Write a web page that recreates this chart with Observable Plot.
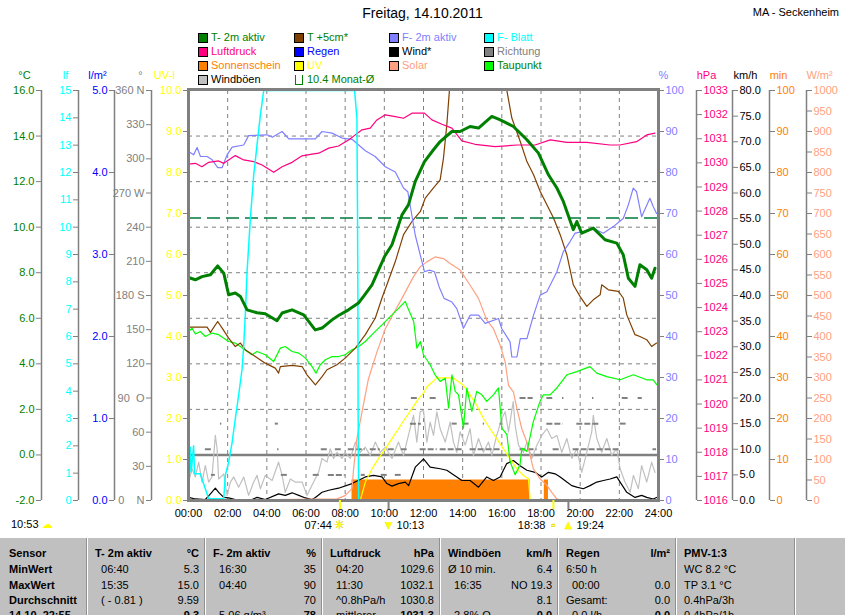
<!DOCTYPE html>
<html><head><meta charset="utf-8">
<script src="https://cdn.jsdelivr.net/npm/d3@7"></script>
<script src="https://cdn.jsdelivr.net/npm/@observablehq/plot@0.6"></script>
<style>
body{margin:0;background:#fff;}
#root{position:relative;width:845px;height:615px;overflow:hidden;background:#fff;font-family:"Liberation Sans",Arial,sans-serif;color:#000;}
.abs{position:absolute;white-space:pre;}
.leg{position:absolute;font-size:11px;line-height:13px;white-space:pre;}
.sq{position:absolute;width:8px;height:8px;border:1px solid #000;}
#chart{position:absolute;left:0;top:60px;}
#table{position:absolute;left:0;top:537px;width:845px;height:78px;background:#c0c0c0;border-top:1px solid #fff;overflow:hidden;}
.cell{position:absolute;font-size:11px;line-height:14px;white-space:pre;}
.sep{position:absolute;top:0;height:78px;width:1px;background:#fff;}
.sepd{position:absolute;top:0;height:78px;width:1px;background:#909090;}
</style></head>
<body><div id="root">
<div class="abs" style="left:0;width:845px;top:5px;text-align:center;font-size:14px;">Freitag, 14.10.2011</div>
<div class="abs" style="right:6px;top:6px;font-size:11px;">MA - Seckenheim</div>
<div id="legend"></div>
<div id="chart"></div>
<div class="abs" style="left:11px;top:518px;font-size:11px;">10:53 <span style="color:#ffff00;">☁</span></div>
<div id="table"></div>
</div>
<script>
// ---------- data (own units) ----------
const t2m = [[0,7.79],[0.35,7.69],[0.69,7.83],[1.12,7.91],[1.49,8.30],[1.8,7.98],[2.05,7.03],[2.39,7.11],[2.65,6.96],[2.99,6.37],[3.5,6.24],[3.92,6.20],[4.52,5.89],[4.78,6.23],[5.29,6.37],[5.88,6.15],[6.47,5.49],[6.82,5.57],[7.33,5.93],[7.66,6.12],[8.17,6.37],[8.68,6.67],[8.94,6.96],[9.37,7.47],[10.01,8.71],[10.39,9.23],[10.9,10.54],[11.23,10.98],[11.58,12.01],[12.05,12.88],[12.51,13.40],[12.85,13.76],[13.45,14.20],[13.87,14.20],[14.38,14.42],[14.81,14.35],[15.49,14.86],[15.92,14.71],[16.59,14.42],[17.28,13.84],[17.87,13.25],[18.38,12.30],[18.81,11.72],[19.14,11.13],[19.65,9.89],[19.83,10.25],[20.08,9.74],[20.67,9.96],[21.27,9.45],[21.87,9.30],[22.2,8.79],[22.46,7.76],[22.8,7.40],[23.05,8.35],[23.4,8.13],[23.65,7.76],[23.82,8.20]];
const t5cm = [[0,5.61],[0.95,5.61],[1.12,5.38],[1.49,5.86],[1.72,5.57],[2.05,5.13],[2.39,4.76],[2.65,4.91],[2.9,4.62],[3.41,4.32],[3.92,4.03],[4.43,3.81],[4.6,3.59],[4.69,3.88],[5.29,3.93],[5.8,3.88],[6.05,3.52],[6.48,3.08],[6.82,3.44],[7.07,3.74],[7.58,3.96],[8.0,4.25],[8.52,4.69],[9.03,5.28],[9.54,6.01],[9.88,6.89],[10.13,7.47],[10.56,8.49],[10.98,9.67],[11.41,10.25],[11.84,10.69],[12.09,11.28],[12.51,11.72],[12.85,12.08],[13.02,13.03],[13.19,14.49],[13.32,15.96],[13.6,17.8],[14.2,19.6],[15.0,20.3],[15.7,19.0],[16.25,16.03],[16.51,14.79],[16.94,13.76],[17.28,12.88],[17.62,12.30],[17.96,11.57],[18.3,10.98],[18.64,10.40],[18.98,9.67],[19.32,8.79],[19.65,7.47],[19.99,6.96],[20.34,6.52],[20.67,6.81],[21.02,7.03],[21.1,7.47],[21.44,7.25],[21.95,7.18],[22.2,6.89],[22.38,6.15],[22.8,5.28],[23.05,5.20],[23.4,5.06],[23.65,4.76],[23.9,4.91]];
const dewPoint = [[0.01,5.42],[0.18,5.57],[0.35,5.31],[0.6,5.42],[0.86,5.20],[1.2,5.35],[1.54,5.28],[2.05,4.98],[2.39,4.91],[2.65,4.76],[2.99,4.54],[3.24,4.40],[3.5,4.54],[3.92,4.40],[4.35,4.10],[4.69,4.69],[4.94,4.76],[5.29,4.54],[5.63,4.47],[5.97,4.25],[6.31,3.88],[6.51,3.59],[6.73,3.96],[6.99,4.18],[7.33,4.32],[7.66,4.32],[8.0,4.40],[8.35,4.62],[8.69,4.76],[9.03,4.98],[9.37,5.28],[9.88,5.71],[10.39,6.15],[10.9,6.59],[11.07,6.74],[11.24,6.37],[11.5,5.86],[11.66,4.69],[11.84,4.98],[12.0,4.40],[12.34,3.96],[12.59,3.52],[12.85,3.23],[13.11,3.37],[13.28,2.06],[13.45,3.52],[13.62,2.79],[13.79,2.64],[14.04,1.18],[14.21,2.94],[14.47,1.91],[14.72,2.79],[14.98,2.64],[15.23,2.35],[15.57,2.64],[15.83,2.94],[16.0,1.18],[16.26,0.89],[16.42,-0.29],[16.68,-0.87],[16.93,-0.43],[17.02,0.30],[17.28,0.15],[17.61,1.47],[17.95,2.35],[18.12,2.64],[18.46,2.64],[18.81,2.94],[19.32,3.52],[19.83,3.66],[20.5,3.88],[20.85,3.59],[21.36,3.44],[22.04,3.30],[22.71,3.52],[23.4,3.30],[23.73,3.30],[23.91,3.09]];
const humidity = [[0.01,85.1],[0.26,84.3],[0.44,86.1],[0.61,83.9],[0.95,83.9],[1.21,83.1],[1.49,81.2],[1.72,81.2],[1.97,84.3],[2.23,86.2],[2.82,86.7],[3.07,89.0],[4.02,89.2],[4.28,88.6],[4.78,90.0],[5.12,88.2],[6.48,88.2],[6.82,90.0],[7.33,89.6],[7.84,88.4],[8.35,88.1],[9.03,85.3],[9.53,83.9],[10.05,81.4],[10.56,80.1],[10.98,76.2],[11.2,75.3],[11.58,64.7],[12.05,55.8],[12.3,56.2],[12.56,55.8],[12.8,52.1],[13.05,49.3],[13.45,48.4],[13.7,46.8],[14.04,42.0],[14.38,45.2],[14.81,45.2],[15.15,43.2],[15.83,44.4],[16.0,41.9],[16.42,38.7],[16.51,35.0],[16.77,35.0],[16.94,39.5],[17.28,39.5],[17.62,45.2],[17.96,50.1],[18.3,50.9],[18.81,55.8],[19.14,60.7],[19.48,63.1],[19.74,65.2],[20.16,65.6],[20.67,66.4],[21.18,65.2],[21.69,66.8],[22.2,68.8],[22.46,72.1],[22.71,76.2],[22.88,75.3],[23.14,69.2],[23.56,73.7],[23.73,71.7],[23.9,70.0]];
const leafWet = [[0,1.65],[0.05,1.04],[0.09,1.95],[0.14,1.04],[0.26,2.0],[0.31,0.98],[0.6,0.98],[1.03,0.06],[1.8,0.06],[1.88,0.92],[2.05,1.40],[2.23,2.14],[2.39,2.99],[2.56,3.85],[2.74,4.83],[2.82,5.68],[2.9,6.78],[2.99,8.37],[3.16,10.32],[3.33,11.91],[3.5,13.01],[3.67,14.11],[3.84,15.0],[8.48,15.0],[8.6,13.99],[8.63,10.56],[8.65,7.39],[8.66,3.48],[8.69,0],[24,0]];
const pressure = [[0.01,1029.95],[0.35,1029.98],[0.69,1029.84],[1.03,1030.02],[1.54,1030.08],[1.80,1029.98],[2.39,1030.30],[2.82,1030.12],[3.33,1030.05],[3.76,1029.91],[4.35,1029.61],[4.78,1029.84],[5.29,1030.02],[5.8,1030.29],[6.31,1030.36],[6.65,1030.40],[7.16,1030.61],[7.66,1030.70],[8.17,1030.95],[8.52,1031.16],[8.86,1031.37],[9.28,1031.44],[9.62,1031.78],[10.05,1031.99],[10.56,1031.92],[10.98,1031.85],[11.41,1032.06],[12.05,1032.06],[12.43,1031.78],[12.94,1031.60],[13.45,1031.44],[13.96,1030.91],[14.63,1030.77],[15.66,1030.67],[16.77,1030.74],[17.7,1030.74],[18.47,1030.95],[19.32,1030.85],[20.34,1030.85],[21.52,1030.74],[22.03,1030.74],[22.88,1030.88],[23.4,1031.16],[23.82,1031.23]];
const rain = [[0,0],[24,0]];
const gusts = [[0.01,3.6],[0.18,6.2],[0.35,4.6],[0.52,7.5],[0.69,3.6],[0.86,6.8],[1.03,3.6],[1.2,4.6],[1.37,12.7],[1.46,10.1],[1.54,4.2],[1.8,5.2],[1.97,1.0],[2.14,3.6],[2.31,4.6],[2.56,2.6],[2.82,4.6],[3.07,1.0],[3.33,3.6],[3.5,4.9],[3.67,2.3],[3.92,4.9],[4.27,3.9],[4.6,7.5],[4.78,4.9],[4.94,1.6],[5.2,4.2],[5.45,3.6],[5.8,3.6],[6.05,1.0],[6.39,3.6],[6.64,5.5],[6.82,8.2],[7.07,7.5],[7.24,10.1],[7.41,8.2],[7.58,9.4],[7.84,8.2],[8.0,9.4],[8.26,8.2],[8.52,11.4],[8.77,9.4],[9.03,10.4],[9.28,8.8],[9.54,11.4],[9.79,9.4],[10.05,10.4],[10.39,8.2],[10.72,11.4],[10.98,8.8],[11.23,12.7],[11.49,16.6],[11.66,11.4],[11.83,17.3],[12.0,17.6],[12.17,11.4],[12.34,15.3],[12.51,12.7],[12.68,17.3],[12.85,14.0],[13.11,11.4],[13.36,15.3],[13.53,11.4],[13.7,9.4],[13.87,13.4],[14.13,10.8],[14.38,14.0],[14.55,8.8],[14.81,12.1],[15.06,9.4],[15.32,11.4],[15.49,8.8],[15.74,12.7],[16.0,16.0],[16.17,17.3],[16.34,13.4],[16.58,19.3],[16.68,14.7],[16.85,10.8],[17.1,9.4],[17.28,11.4],[17.53,8.2],[17.79,10.8],[18.04,12.7],[18.3,14.0],[18.55,12.1],[18.81,12.7],[19.06,9.4],[19.32,12.1],[19.57,8.2],[19.83,10.1],[20.08,5.5],[20.34,9.4],[20.59,13.4],[20.67,16.6],[20.85,12.1],[21.1,9.4],[21.36,12.1],[21.61,8.8],[21.87,10.1],[22.04,6.2],[22.29,3.6],[22.55,1.6],[22.72,4.9],[22.97,2.3],[23.14,6.8],[23.4,3.6],[23.65,7.5],[23.82,5.5]];
const wind = [[0.01,0.6],[0.35,0.3],[0.86,0.2],[1.12,1.3],[1.37,2.4],[1.54,1.6],[1.8,0.6],[2.05,0.5],[2.39,0.2],[3.24,0.2],[3.5,0.6],[3.92,0.2],[4.6,1.3],[4.94,1.0],[5.29,1.5],[5.63,1.0],[5.97,0.5],[6.31,0.2],[6.48,0.6],[6.82,1.6],[7.16,2.0],[7.66,2.4],[8.35,3.3],[9.03,4.6],[9.45,4.9],[9.88,4.6],[10.13,3.3],[10.39,2.8],[10.72,3.3],[11.07,3.6],[11.24,2.9],[11.58,6.5],[11.84,7.5],[12.0,8.1],[12.34,6.5],[12.85,6.2],[13.19,5.9],[13.7,4.6],[13.96,3.9],[14.38,3.9],[14.81,2.6],[15.23,4.6],[15.57,3.9],[15.91,4.6],[16.25,7.2],[16.59,7.8],[16.93,6.8],[17.28,5.9],[17.7,5.5],[18.04,4.6],[18.38,5.5],[18.72,5.2],[18.98,4.6],[19.32,3.6],[19.57,2.9],[19.83,2.6],[20.16,2.3],[20.5,2.9],[20.85,3.6],[21.19,3.9],[21.53,4.2],[21.87,4.6],[22.04,3.6],[22.38,1.6],[22.8,0.6],[23.14,1.0],[23.4,0.6],[23.73,0.3],[23.9,0.6]];
const solar = [[0,0],[7.58,4],[8.0,12],[8.35,29],[8.43,77],[8.6,151],[8.86,216],[9.19,297],[9.62,362],[10.05,419],[10.47,456],[10.9,493],[11.49,546],[11.83,570],[12.17,582],[12.59,594],[13.02,590],[13.36,578],[13.87,562],[14.38,525],[14.81,493],[15.23,440],[15.57,419],[15.91,379],[16.17,338],[16.34,281],[16.59,265],[16.77,224],[17.02,175],[17.28,142],[17.61,77],[17.95,53],[18.3,37],[18.55,20],[18.81,4],[19.0,0],[24,0]];
const uvIndex = [[8.77,0],[9.03,0.45],[9.37,0.77],[9.7,1.02],[10.05,1.26],[10.39,1.51],[10.72,1.75],[11.06,2.0],[11.41,2.24],[11.74,2.48],[12.05,2.65],[12.17,2.77],[12.68,2.99],[13.53,2.99],[14.04,2.81],[14.38,2.57],[14.72,2.32],[15.06,2.0],[15.4,1.75],[15.74,1.51],[16.08,1.26],[16.42,1.02],[16.77,0.77],[17.1,0.61],[17.36,0.53],[17.44,0.04]];
const sunStart = [8.35, 18.17];
const sunEnd = [17.44, 18.38];
const sunMinutes = [5, 5];
const dirRuns = [[1.63,1.7,67.5],[4.43,4.59,67.5],[11.33,11.89,67.5],[13.46,13.72,67.5],[14.02,14.38,67.5],[15.05,15.12,67.5],[15.91,16.06,67.5],[18.3,19.13,67.5],[19.83,21.02,67.5],[22.04,22.4,67.5],
  [11.38,11.74,90],[12.34,12.75,90],[16.93,17.6,90],[18.3,18.6,90],[19.1,19.17,90],[20.63,20.7,90],[22.15,22.45,90],[22.96,23.17,90],
  [0.86,1.17,45],[4.55,4.62,45],[6.78,7.14,45],[7.5,7.8,45],[8.16,9.02,45],[9.28,9.79,45],[10.2,10.56,45],[10.86,11.22,45],[11.83,12.7,45],[12.85,14.02,45],[14.38,15.91,45],[16.93,17.8,45],[18.62,18.97,45],[19.64,22.04,45],[23.72,23.9,45],
  [1.17,1.37,22.5],[4.74,5.1,22.5],[6.37,6.73,22.5],[7.14,8.0,22.5],[8.82,9.03,22.5],[9.84,10.15,22.5],[10.56,10.86,22.5]];
const monthMean = 10.4;
const freezing = 0;

const eventTimes = [7 + 44/60, 10 + 13/60, 18 + 38/60, 19 + 24/60];
const eventLabels = ["07:44", "10:13", "18:38", "19:24"];
const eventIcons = ["☀", "▼", "▫", "▲"];
const eventSides = ["left", "right", "left", "right"];
const eventKinds = ["sun", "moon", "sun", "moon"];

// tick labels
const xTicks = [0,2,4,6,8,10,12,14,16,18,20,22,24];
const ticksC = [-2,0,2,4,6,8,10,12,14,16];
const ticksLf = [0,1,2,3,4,5,6,7,8,9,10,11,12,13,14,15];
const ticksRain = [0,1,2,3,4,5];
const ticksDir = [0,30,60,90,120,150,180,210,240,270,300,330,360];
const dirNames = {0:"0    N", 90:"90  O", 180:"180 S", 270:"270 W", 360:"360 N"};
const ticksUv = [0,1,2,3,4,5,6,7,8,9,10];
const ticksPct = [0,10,20,30,40,50,60,70,80,90,100];
const ticksHpa = [1016,1017,1018,1019,1020,1021,1022,1023,1024,1025,1026,1027,1028,1029,1030,1031,1032,1033];
const ticksKmh = [0,5,10,15,20,25,30,35,40,45,50,55,60,65,70,75,80];
const ticksMin = [0,10,20,30,40,50,60,70,80,90,100];
const ticksWm2 = [0,50,100,150,200,250,300,350,400,450,500,550,600,650,700,750,800,850,900,950,1000];

// legend
const legendNames = ["T- 2m aktiv","T +5cm*","F- 2m aktiv","F- Blatt","Luftdruck","Regen","Wind*","Richtung","Sonnenschein","UV","Solar","Taupunkt","Windböen","10.4 Monat-Ø"];
const legendSwatch = ["#008000","#804000","#8080ff","#00ffff","#ff0080","#0000ff","#000000","#808080","#ff8000","#ffff00","#ffa080","#00ff00","#c0c0c0",null];
const legendTextColor = ["#008000","#008000","#8080ff","#00ffff","#ff0080","#0000ff","#000000","#808080","#ff8000","#ffff00","#ffa080","#008000","#000000","#008000"];

// table
const tableHeader = [["Sensor",""],["T- 2m aktiv","°C"],["F- 2m aktiv","%"],["Luftdruck","hPa"],["Windböen","km/h"],["Regen","l/m²"],["PMV-1:3",""],["",""]];
const tableRows = [
  [["MinWert",""],["  06:40","5.3"],["  16:30","35"],["  04:20","1029.6"],["Ø 10 min.","6.4"],["6:50 h",""],["WC 8.2 °C",""],["",""]],
  [["MaxWert",""],["  15:35","15.0"],["  04:40","90"],["  11:30","1032.1"],["  16:35","NO 19.3"],["  00:00","0.0"],["TP 3.1 °C",""],["",""]],
  [["Durchschnitt",""],["  ( - 0.81 )","9.59"],["","70"],["  ^0.8hPa/h","1030.8"],["","8.1"],["Gesamt:","0.0"],["0.4hPa/3h",""],["",""]],
  [["14.10. 22:55",""],["","9.3"],["  5.06 g/m³","78"],["  mittlerer","1031.3"],["  2.8% O","0.0"],["  0.0 l/h","0.0"],["0.4hPa/1h",""],["",""]]
];
const tableColX = [0,87,205,322,440,558,676,795,845];

// ---------- scales helpers ----------
const AX = {
  C:{min:-2,max:16}, lf:{min:0,max:15}, rain:{min:0,max:5}, dir:{min:0,max:360}, uv:{min:0,max:10},
  pct:{min:0,max:100}, hpa:{min:1016,max:1033}, kmh:{min:0,max:80}, min:{min:0,max:100}, wm2:{min:0,max:1000}
};
const toC = (ax, v) => -2 + (v - ax.min) / (ax.max - ax.min) * 18;
const pts = (arr, ax) => arr.map(([t, v]) => ({t, c: toC(ax, v)}));

const sideAxes = [
  {ax:AX.C, ticks:ticksC, fmt:v=>v.toFixed(1), color:"#008000", anchor:"left", dx:-147, unit:"°C", unitDx:-164},
  {ax:AX.lf, ticks:ticksLf, fmt:v=>String(v), color:"#00ffff", anchor:"left", dx:-110, unit:"lf", unitDx:-123},
  {ax:AX.rain, ticks:ticksRain, fmt:v=>v.toFixed(1), color:"#0000ff", anchor:"left", dx:-74, unit:"l/m²", unitDx:-91},
  {ax:AX.dir, ticks:ticksDir, fmt:v=>dirNames[v] ?? String(v), color:"#808080", anchor:"left", dx:-37, unit:"°", unitDx:-48},
  {ax:AX.uv, ticks:ticksUv, fmt:v=>v.toFixed(1), color:"#ffff00", anchor:"left", dx:0, unit:"UV-I", unitDx:-24},
  {ax:AX.pct, ticks:ticksPct, fmt:v=>String(v), color:"#8080ff", anchor:"right", dx:0, unit:"%", unitDx:5},
  {ax:AX.hpa, ticks:ticksHpa, fmt:v=>String(v), color:"#ff0080", anchor:"right", dx:38, unit:"hPa", unitDx:48},
  {ax:AX.kmh, ticks:ticksKmh, fmt:v=>v.toFixed(1), color:"#000000", anchor:"right", dx:74, unit:"km/h", unitDx:87},
  {ax:AX.min, ticks:ticksMin, fmt:v=>String(v), color:"#ff8000", anchor:"right", dx:111, unit:"min", unitDx:120},
  {ax:AX.wm2, ticks:ticksWm2, fmt:v=>String(v), color:"#ffa080", anchor:"right", dx:148, unit:"W/m²", unitDx:161}
];

function sideAxis(s) {
  const tv = s.ticks.map(v => toC(s.ax, v));
  const lab = new Map(tv.map((c, i) => [c, s.fmt(s.ticks[i])]));
  const xAt = s.anchor === "left" ? 0 : 24;
  const marks = [];
  if (s.dx !== 0) marks.push(Plot.ruleX([xAt], {dx: s.dx, y1: -2, y2: 16, stroke: "#808080", strokeWidth: 1.5}));
  marks.push(Plot.axisY(tv, {anchor: s.anchor, dx: s.dx, tickSize: 5, tickPadding: 2, stroke: "#808080", fill: s.color, tickFormat: d => lab.get(d), label: null}));
  marks.push(Plot.text([s.unit], {x: xAt, y: 16, dx: s.unitDx, dy: -15, text: d => d, fill: s.color, fontSize: 11, textAnchor: "middle"}));
  return marks;
}

const sunData = sunStart.map((s, i) => ({s, e: sunEnd[i], c1: toC(AX.min, 0), c2: toC(AX.min, sunMinutes[i])}));
const dirData = dirRuns.map(([s, e, d]) => ({s, e, c: toC(AX.dir, d)}));
const events = eventTimes.map((t, i) => ({t, label: eventLabels[i], icon: eventIcons[i], side: eventSides[i], kind: eventKinds[i]}));
const gridHours = xTicks.filter(h => h > 0 && h < 24);
const gridC = ticksC.filter(c => c > -2 && c < 16 && c !== freezing);

const lineOpt = (color, w = 1.2) => ({x: "t", y: "c", stroke: color, strokeWidth: w, clip: true});

const chart = Plot.plot({
  width: 845, height: 480,
  marginLeft: 188, marginRight: 187, marginTop: 30, marginBottom: 40,
  x: {domain: [0, 24], label: null},
  y: {domain: [-2, 16], label: null},
  style: {background: "transparent", fontFamily: "'Liberation Sans', Arial, sans-serif", fontSize: "11px", overflow: "visible"},
  marks: [
    Plot.ruleX(gridHours, {stroke: "#808080", strokeDasharray: "4,4", strokeWidth: 1}),
    Plot.ruleY(gridC, {stroke: "#808080", strokeDasharray: "4,4", strokeWidth: 1}),
    Plot.rect(sunData, {x1: "s", x2: "e", y1: "c1", y2: "c2", fill: "#ff8000"}),
    Plot.ruleY([freezing], {stroke: "#808080", strokeWidth: 2.5}),
    Plot.line(pts(gusts, AX.kmh), lineOpt("#c0c0c0")),
    Plot.ruleY(dirData, {y: "c", x1: "s", x2: "e", stroke: "#808080", strokeWidth: 2, strokeDasharray: "6,2"}),
    Plot.line(pts(wind, AX.kmh), lineOpt("#000000")),
    Plot.line(pts(rain, AX.rain), lineOpt("#0000ff")),
    Plot.line(pts(solar, AX.wm2), lineOpt("#ffa080")),
    Plot.line(pts(uvIndex, AX.uv), lineOpt("#ffff00")),
    Plot.line(pts(dewPoint, AX.C), lineOpt("#00ff00")),
    Plot.line(pts(t5cm, AX.C), lineOpt("#804000")),
    Plot.line(pts(humidity, AX.pct), lineOpt("#8080ff")),
    Plot.line(pts(pressure, AX.hpa), lineOpt("#ff0080")),
    Plot.ruleY([monthMean], {stroke: "#007a3d", strokeWidth: 1.5, strokeDasharray: "13,6"}),
    Plot.line(pts(leafWet, AX.lf), lineOpt("#00ffff", 1.5)),
    Plot.line(pts(t2m, AX.C), lineOpt("#008000", 3)),
    Plot.frame({stroke: "#808080", strokeWidth: 3, insetTop: -1}),
    ...sideAxes.flatMap(sideAxis),
    Plot.axisX(xTicks, {anchor: "bottom", tickSize: 0, tickPadding: 9, tickFormat: h => (h < 10 ? "0" : "") + h + ":00", label: null, fill: "#000"}),
    Plot.ruleX(events.filter(e => e.kind === "sun"), {x: "t", y1: -2, y2: -2.4, stroke: "#ffff00", strokeWidth: 2}),
    Plot.ruleX(events.filter(e => e.kind === "moon"), {x: "t", y1: -2, y2: -2.4, stroke: "#808080", strokeWidth: 2}),
    Plot.text(events, {x: "t", y: -2, dy: 25, text: "icon", fill: "#ffff00", stroke: "#d0c000", strokeWidth: 0.4, fontSize: 12}),
    Plot.text(events.filter(e => e.side === "left"), {x: "t", y: -2, dy: 25, dx: -8, text: "label", textAnchor: "end", fill: "#000", fontSize: 11}),
    Plot.text(events.filter(e => e.side === "right"), {x: "t", y: -2, dy: 25, dx: 8, text: "label", textAnchor: "start", fill: "#000", fontSize: 11})
  ]
});
document.getElementById("chart").appendChild(chart);

// ---------- legend ----------
const legColX = [198, 294, 389, 484];
const legRowY = [38, 52, 66, 80];
const legendEl = document.getElementById("legend");
legendNames.forEach((name, i) => {
  const cx = legColX[i % 4], cy = legRowY[Math.floor(i / 4)];
  const sq = document.createElement("div");
  sq.className = "sq";
  sq.style.left = cx + "px"; sq.style.top = (cy - 5) + "px";
  if (legendSwatch[i]) sq.style.background = legendSwatch[i];
  else { sq.style.border = "1px solid #008000"; sq.style.borderTop = "none"; sq.style.height = "9px"; sq.style.width = "6px"; sq.style.left = (cx + 1) + "px"; }
  legendEl.appendChild(sq);
  const tx = document.createElement("div");
  tx.className = "leg";
  tx.style.left = (cx + 13) + "px"; tx.style.top = (cy - 7) + "px";
  tx.style.color = legendTextColor[i];
  tx.textContent = name;
  legendEl.appendChild(tx);
});

// ---------- table ----------
const tableEl = document.getElementById("table");
for (let k = 1; k < tableColX.length - 1; k++) {
  const d = document.createElement("div"); d.className = "sepd"; d.style.left = (tableColX[k] - 1) + "px"; tableEl.appendChild(d);
  const w = document.createElement("div"); w.className = "sep"; w.style.left = tableColX[k] + "px"; tableEl.appendChild(w);
}
const rowTops = [8, 24, 40, 55, 70];
[tableHeader, ...tableRows].forEach((row, r) => {
  row.forEach(([lt, rt], c) => {
    const x0 = c === 0 ? 9 : tableColX[c] + 8;
    const x1 = tableColX[c + 1] - 6;
    const boldL = r === 0 || c === 0;
    const boldR = r === 0 || r === 4;
    if (lt) {
      const e = document.createElement("div"); e.className = "cell";
      e.style.left = x0 + "px"; e.style.top = rowTops[r] + "px";
      e.style.fontWeight = boldL ? "bold" : "normal";
      e.textContent = lt; tableEl.appendChild(e);
    }
    if (rt) {
      const e = document.createElement("div"); e.className = "cell";
      e.style.right = (845 - x1) + "px"; e.style.top = rowTops[r] + "px";
      e.style.fontWeight = boldR ? "bold" : "normal";
      e.textContent = rt; tableEl.appendChild(e);
    }
  });
});
</script>
</body></html>
